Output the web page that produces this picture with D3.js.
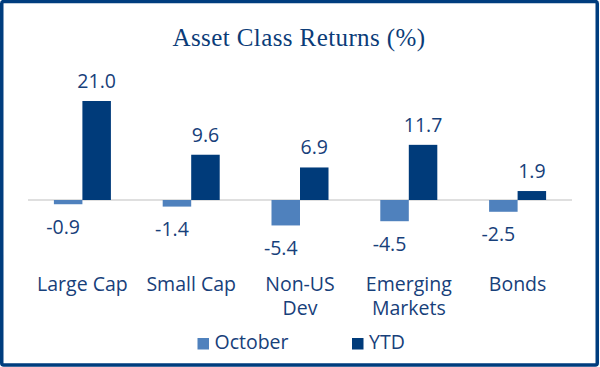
<!DOCTYPE html>
<html>
<head>
<meta charset="utf-8">
<script src="https://cdn.jsdelivr.net/npm/d3@7"></script>
<style>
  html, body { margin: 0; padding: 0; background: #fff; }
  svg { display: block; }
</style>
</head>
<body>
<div id="chart"></div>
<script>
const categories = [["Large Cap"], ["Small Cap"], ["Non-US", "Dev"], ["Emerging", "Markets"], ["Bonds"]];
const seriesNames = ["October", "YTD"];
const october = [-0.9, -1.4, -5.4, -4.5, -2.5];
const ytd = [21.0, 9.6, 6.9, 11.7, 1.9];
const title = "Asset Class Returns (%)";

const W = 600, H = 367;
const colors = { October: "#4F81BD", YTD: "#003B7A" };
const textColor = "#17407A";

const svg = d3.select("#chart").append("svg").attr("width", W).attr("height", H);

// border
svg.append("rect").attr("x", 1.75).attr("y", 1.5).attr("width", W - 4.5).attr("height", H - 3.5)
  .attr("rx", 2).attr("fill", "#fff").attr("stroke", "#003D7E").attr("stroke-width", 3.5);

// title
svg.append("text").attr("x", 299).attr("y", 46).attr("text-anchor", "middle")
  .attr("font-family", "'Liberation Serif', 'Times New Roman', serif")
  .attr("font-size", 25).attr("letter-spacing", 0.4).attr("fill", "#0B3C78").text(title);

const keys = categories.map(c => c.join(" "));
const x0 = d3.scaleBand().domain(keys).range([28, 572]).paddingInner(0.476).paddingOuter(0.238);
const x1 = d3.scaleBand().domain(seriesNames).range([0, x0.bandwidth()]);
const y = d3.scaleLinear().domain([-10, 25]).range([247.14, 82.14]);

const data = keys.map((k, i) => ({ key: k, lines: categories[i], values: [
  { s: "October", v: october[i] }, { s: "YTD", v: ytd[i] } ] }));

// zero line
svg.append("line").attr("x1", 28).attr("x2", 572).attr("y1", y(0)).attr("y2", y(0))
  .attr("stroke", "#BFBFBF").attr("stroke-width", 1.2);

const g = svg.selectAll("g.cat").data(data).join("g").attr("class", "cat")
  .attr("transform", d => `translate(${x0(d.key)},0)`);

g.selectAll("rect").data(d => d.values).join("rect")
  .attr("x", d => x1(d.s)).attr("width", x1.bandwidth())
  .attr("y", d => y(Math.max(0, d.v))).attr("height", d => Math.abs(y(d.v) - y(0)))
  .attr("fill", d => colors[d.s]);

g.selectAll("text.val").data(d => d.values).join("text").attr("class", "val")
  .attr("x", d => x1(d.s) + x1.bandwidth() / 2 + (d.v < 0 ? -5 : 0))
  .attr("y", d => d.v >= 0 ? y(d.v) - 13 : y(d.v) + 29.5)
  .attr("text-anchor", "middle")
  .attr("font-family", "'Open Sans', sans-serif").attr("font-size", 19.5)
  .attr("fill", textColor).text(d => d.v.toFixed(1));

// category labels
const cl = svg.selectAll("text.cat").data(data).join("text").attr("class", "cat")
  .attr("x", d => x0(d.key) + x0.bandwidth() / 2).attr("y", 291)
  .attr("text-anchor", "middle")
  .attr("font-family", "'Open Sans', sans-serif").attr("font-size", 19.5)
  .attr("fill", textColor);
cl.selectAll("tspan").data(d => d.lines).join("tspan")
  .attr("x", function() { return d3.select(this.parentNode).attr("x"); })
  .attr("dy", (d, i) => i === 0 ? 0 : 24.3).text(d => d);

// legend
const legendX = [197.5, 352];
const lg = svg.selectAll("g.leg").data(seriesNames).join("g").attr("class", "leg")
  .attr("transform", (d, i) => `translate(${legendX[i]},0)`);
lg.append("rect").attr("x", 0).attr("y", 338).attr("width", 11.5).attr("height", 11.5)
  .attr("fill", d => colors[d]);
lg.append("text").attr("x", 17).attr("y", 349.3)
  .attr("font-family", "'Open Sans', sans-serif").attr("font-size", 19.5)
  .attr("fill", textColor).text(d => d);
</script>
</body>
</html>
